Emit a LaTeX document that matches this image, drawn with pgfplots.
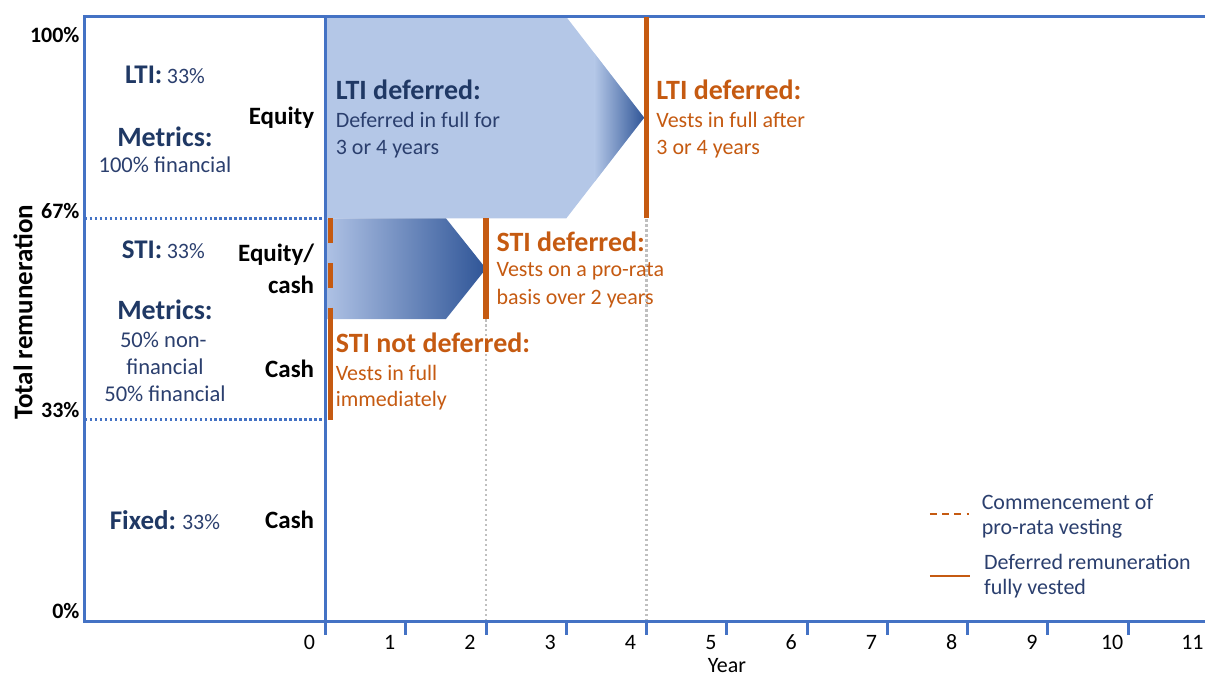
\documentclass[border=0pt]{standalone}
\usepackage{fontspec}
\setmainfont{Carlito}
\usepackage{pgfplots}
\pgfplotsset{compat=1.18}
\definecolor{fblue}{HTML}{4472C4}
\definecolor{navy}{HTML}{1F3864}
\definecolor{navytxt}{HTML}{2B3F6E}
\definecolor{orng}{HTML}{C55A11}
\definecolor{lblue}{HTML}{B4C7E7}
\definecolor{lblueb}{HTML}{AFC2E5}
\definecolor{dblue}{HTML}{2F5597}
\definecolor{gdot}{HTML}{BFBFBF}
\newcommand{\fs}[1]{\fontsize{#1}{#1}\selectfont}
\begin{document}
\begin{tikzpicture}[every node/.style={inner sep=0pt}]
\begin{axis}[scale only axis, width=560.75pt, height=302.5pt,
  xmin=-3, xmax=10.95, ymin=0, ymax=100, axis lines=none, clip=false]
% LTI deferred arrow
\addplot[draw=none, fill=lblue] coordinates {(0,66.67)(0,100)(3,100)(3.97,83.33)(3,66.67)} -- cycle;
\addplot[draw=none, left color=lblue, right color=dblue] coordinates {(3.35,72.7)(3.35,93.96)(3.97,83.33)} -- cycle;
% STI deferred arrow
\addplot[draw=none, left color=lblueb, right color=dblue] coordinates {(0,50)(0,66.67)(1.5,66.67)(2,58.33)(1.5,50)} -- cycle;
% gray dotted guides
\addplot[gdot, line width=1.2pt, dash pattern=on 1.2pt off 1.3pt] coordinates {(2,0)(2,50)};
\addplot[gdot, line width=1.2pt, dash pattern=on 1.2pt off 1.3pt] coordinates {(4,0)(4,66.67)};
% blue dotted separators
\addplot[fblue, line width=1.3pt, dash pattern=on 1.1pt off 1.4pt] coordinates {(-3,66.67)(0,66.67)};
\addplot[fblue, line width=1.3pt, dash pattern=on 1.1pt off 1.4pt] coordinates {(-3,33.33)(0,33.33)};
% frame
\draw[fblue, line width=1.5pt] (axis cs:10.95,100) -- (axis cs:-3,100) -- (axis cs:-3,0) -- (axis cs:10.95,0);
\draw[fblue, line width=1.5pt] (axis cs:0,100) -- (axis cs:0,-2.3);
\foreach \k in {1,...,10} {\edef\tmp{\noexpand\draw[fblue, line width=1.5pt] (axis cs:\k,0) -- (axis cs:\k,-2.3);}\tmp}
% orange vesting lines
\addplot[orng, line width=2.6pt] coordinates {(4,66.67)(4,100)};
\addplot[orng, line width=2.6pt] coordinates {(2,50)(2,66.67)};
\addplot[orng, line width=2.6pt, dash pattern=on 12.6pt off 9.8pt] coordinates {(0.06,66.67)(0.06,51.9)};
\addplot[orng, line width=2.6pt] coordinates {(0.06,51.9)(0.06,33.33)};
% legend
\addplot[orng, line width=1pt, dash pattern=on 3.5pt off 2.6pt] coordinates {(7.53,17.7)(8.02,17.7)};
\addplot[orng, line width=1.3pt] coordinates {(7.53,7.44)(8.03,7.44)};
\node[anchor=west, navytxt, font=\fs{11}] at (axis cs:8.17,19.7) {Commencement of};
\node[anchor=west, navytxt, font=\fs{11}] at (axis cs:8.17,15.2) {pro-rata vesting};
\node[anchor=west, navytxt, font=\fs{11}] at (axis cs:8.20,9.75) {Deferred remuneration};
\node[anchor=west, navytxt, font=\fs{11}] at (axis cs:8.20,5.3) {fully vested};
% x tick labels
\foreach \k in {0,...,11} {\edef\tmp{\noexpand\node[font=\noexpand\fs{11}] at (axis cs:\k-0.2,-3.5) {\k};}\tmp}
\node[font=\fs{11}] at (axis cs:5,-7.4) {Year};
% y tick labels
\node[anchor=east, font=\bfseries\fs{11}] at (axis cs:-3.06,97.0) {100\%};
\node[anchor=east, font=\bfseries\fs{11}] at (axis cs:-3.06,67.8) {67\%};
\node[anchor=east, font=\bfseries\fs{11}] at (axis cs:-3.06,35.0) {33\%};
\node[anchor=east, font=\bfseries\fs{11}] at (axis cs:-3.06,1.65) {0\%};
\node[rotate=90, font=\bfseries\fs{13.5}] at (axis cs:-3.77,51.1) {Total remuneration};
% left box
\node[navy] at (axis cs:-2.0,90.4) {{\bfseries\fs{13.5}LTI:} {\fs{11}\color{navytxt}33\%}};
\node[navy, font=\bfseries\fs{14}] at (axis cs:-2.0,80.2) {Metrics:};
\node[navytxt, font=\fs{11.3}] at (axis cs:-2.0,75.5) {100\% financial};
\node[navy] at (axis cs:-2.02,61.5) {{\bfseries\fs{13.5}STI:} {\fs{11}\color{navytxt}33\%}};
\node[navy, font=\bfseries\fs{14}] at (axis cs:-2.0,51.6) {Metrics:};
\node[navytxt, font=\fs{11.3}] at (axis cs:-2.02,46.6) {50\% non-};
\node[navytxt, font=\fs{11.3}] at (axis cs:-2.0,42.1) {financial};
\node[navytxt, font=\fs{11.3}] at (axis cs:-2.0,37.7) {50\% financial};
\node[navy] at (axis cs:-2.0,16.7) {{\bfseries\fs{13.5}Fixed:} {\fs{11}\color{navytxt}33\%}};
% payment form labels
\node[anchor=east, font=\bfseries\fs{12.5}] at (axis cs:-0.137,83.3) {Equity};
\node[anchor=east, font=\bfseries\fs{12.5}] at (axis cs:-0.137,60.7) {Equity/};
\node[anchor=east, font=\bfseries\fs{12.5}] at (axis cs:-0.137,55.7) {cash};
\node[anchor=east, font=\bfseries\fs{12.5}] at (axis cs:-0.137,41.8) {Cash};
\node[anchor=east, font=\bfseries\fs{12.5}] at (axis cs:-0.137,16.7) {Cash};
% texts in LTI arrow
\node[anchor=west, navy, font=\bfseries\fs{14}] at (axis cs:0.124,87.9) {LTI deferred:};
\node[anchor=west, navytxt, font=\fs{11}] at (axis cs:0.124,83.0) {Deferred in full for};
\node[anchor=west, navytxt, font=\fs{11}] at (axis cs:0.124,78.2) {3 or 4 years};
% orange texts
\node[anchor=west, orng, font=\bfseries\fs{14}] at (axis cs:4.117,87.9) {LTI deferred:};
\node[anchor=west, orng, font=\fs{11}] at (axis cs:4.117,83.0) {Vests in full after};
\node[anchor=west, orng, font=\fs{11}] at (axis cs:4.117,78.2) {3 or 4 years};
\node[anchor=west, orng, font=\bfseries\fs{14}] at (axis cs:2.127,62.8) {STI deferred:};
\node[anchor=west, orng, font=\fs{11}] at (axis cs:2.127,57.9) {Vests on a pro-rata};
\node[anchor=west, orng, font=\fs{11}] at (axis cs:2.127,53.4) {basis over 2 years};
\node[anchor=west, orng, font=\bfseries\fs{14}] at (axis cs:0.124,46.1) {STI not deferred:};
\node[anchor=west, orng, font=\fs{11}] at (axis cs:0.124,41.0) {Vests in full};
\node[anchor=west, orng, font=\fs{11}] at (axis cs:0.124,36.5) {immediately};
\coordinate (bl) at (axis cs:-4.055,-9.09);
\coordinate (tr) at (axis cs:10.945,102.81);
\end{axis}
\path (bl) rectangle (tr);
\end{tikzpicture}
\end{document}
